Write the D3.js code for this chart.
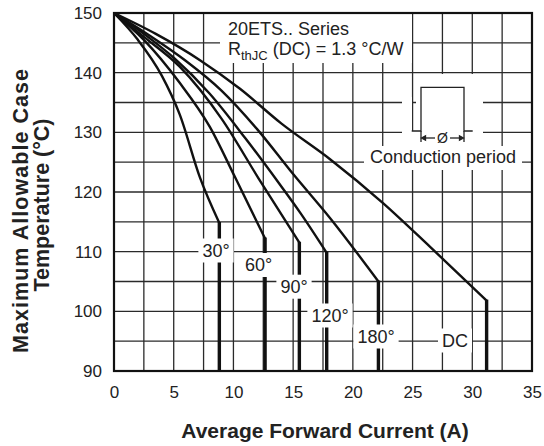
<!DOCTYPE html>
<html><head><meta charset="utf-8">
<script src="https://cdn.jsdelivr.net/npm/d3@7"></script>
<style>
html,body{margin:0;padding:0;background:#fff;}
svg{display:block;font-family:"Liberation Sans",Arial,Helvetica,sans-serif;}
</style></head>
<body>
<svg id="c" width="544" height="446"></svg>
<script>
// ---- data ----
const xTicks = [0, 5, 10, 15, 20, 25, 30, 35];
const yTicks = [90, 100, 110, 120, 130, 140, 150];
const s30  = [[0,150],[2,145.5],[4,139.5],[5.5,133],[7.2,122.4],[8.82,114.8],[8.82,90]];
const s60  = [[0,150],[2.5,145.5],[5.5,138.3],[8,131],[10.13,122.5],[12.65,112.2],[12.65,90]];
const s90  = [[0,150],[2.5,146],[5.5,141],[9,132.3],[12.1,122.3],[15.52,111.5],[15.52,90]];
const s120 = [[0,150],[2.5,146.5],[5,142.5],[8,136.5],[11,129],[13.8,121.5],[15.6,116.5],[17.81,109.8],[17.81,90]];
const s180 = [[0,150],[3,146.2],[6,142],[9,137],[12,130.5],[15,123],[18.1,115.6],[22.14,105],[22.14,90]];
const sDC  = [[0,150],[3.5,146.5],[7.2,142.1],[10.55,137.3],[14,131.5],[18.09,125.5],[22.55,118.1],[26.47,110.8],[31.2,101.8],[31.2,90]];
const seriesData = [s30, s60, s90, s120, s180, sDC];
const labelTexts = ["30°", "60°", "90°", "120°", "180°", "DC"];

// ---- layout ----
const L = 114, R = 532, T = 13, B = 371;
const svg = d3.select("#c");
const x = d3.scaleLinear().domain([0, 35]).range([L, R]);
const y = d3.scaleLinear().domain([90, 150]).range([B, T]);

// grid
const gGrid = svg.append("g");
gGrid.selectAll("line.v").data(d3.range(2.5, 35, 2.5)).join("line")
  .attr("x1", d => x(d)).attr("x2", d => x(d)).attr("y1", T).attr("y2", B)
  .attr("stroke", "#2a2a2a").attr("stroke-width", 1.3);
gGrid.selectAll("line.h").data(d3.range(95, 150, 5)).join("line")
  .attr("y1", d => y(d)).attr("y2", d => y(d)).attr("x1", L).attr("x2", R)
  .attr("stroke", "#2a2a2a").attr("stroke-width", 1.3);

// masks for annotations
const masks = [
  [220, 14, 192, 49],   // title box
  [402, 97, 10, 40],    // left of pulse
  [416, 74, 67, 57],    // pulse interior
  [402, 131, 81, 15],   // below baseline
  [364, 146, 158, 24]   // conduction text
];
svg.append("g").selectAll("rect").data(masks).join("rect")
  .attr("x", d => d[0]).attr("y", d => d[1]).attr("width", d => d[2]).attr("height", d => d[3])
  .attr("fill", "#fff");

// annotation text
const ann = svg.append("g").attr("fill", "#222").attr("font-size", 18);
ann.append("text").attr("x", 228).attr("y", 35).text("20ETS.. Series");
const t2 = ann.append("text").attr("x", 228).attr("y", 55);
t2.append("tspan").text("R");
t2.append("tspan").attr("font-size", 13).attr("dy", 5).text("thJC");
t2.append("tspan").attr("dy", -5).text(" (DC) = 1.3 °C/W");

// pulse inset
const pulse = svg.append("g").attr("stroke", "#222").attr("fill", "none").attr("stroke-width", 1.3);
pulse.append("path").attr("d", "M411.7,131 H421 V87.3 H464 V131 H472.7");
pulse.append("line").attr("x1", 421).attr("x2", 421).attr("y1", 131).attr("y2", 142);
pulse.append("line").attr("x1", 464).attr("x2", 464).attr("y1", 131).attr("y2", 142);
pulse.append("line").attr("x1", 424).attr("x2", 435).attr("y1", 138).attr("y2", 138);
pulse.append("line").attr("x1", 450).attr("x2", 461).attr("y1", 138).attr("y2", 138);
pulse.append("path").attr("d", "M421.5,138 l4,-2.2 v4.4 Z M463.5,138 l-4,-2.2 v4.4 Z").attr("fill", "#222");
ann.append("text").attr("x", 442.5).attr("y", 143).attr("font-size", 14).attr("text-anchor", "middle").text("Ø");
ann.append("text").attr("x", 443).attr("y", 163).attr("text-anchor", "middle").text("Conduction period");

// curves
const line = d3.line().x(d => x(d[0])).y(d => y(d[1])).curve(d3.curveMonotoneX);
const gC = svg.append("g").attr("fill", "none").attr("stroke", "#111");
seriesData.forEach(s => {
  const curvePart = s.slice(0, s.length - 1);
  gC.append("path").attr("d", line(curvePart)).attr("stroke-width", 2.4).attr("stroke-linejoin", "round");
  const k = s[s.length - 2], e = s[s.length - 1];
  gC.append("line").attr("x1", x(k[0])).attr("x2", x(e[0])).attr("y1", y(k[1]) - 1).attr("y2", y(e[1]))
    .attr("stroke-width", 3.4);
});

// curve labels (center x, baseline y)
const labelPos = [[216, 256.5], [258.5, 271], [294, 292.7], [330, 321.5], [376, 342.5], [455, 346.5]];
const gL = svg.append("g").attr("font-size", 18).attr("fill", "#222");
labelTexts.forEach((t, i) => {
  const g = gL.append("g");
  const r = g.append("rect").attr("fill", "#fff");
  const tx = g.append("text").attr("x", labelPos[i][0]).attr("y", labelPos[i][1]).attr("text-anchor", "middle").text(t);
  const bb = tx.node().getBBox();
  r.attr("x", bb.x - 4).attr("y", bb.y - 2).attr("width", bb.width + 8).attr("height", bb.height + 4);
});

// frame
svg.append("rect").attr("x", L).attr("y", T).attr("width", R - L).attr("height", B - T)
  .attr("fill", "none").attr("stroke", "#111").attr("stroke-width", 2.2);

// axes
const xa = svg.append("g").attr("transform", `translate(0,${B})`)
  .call(d3.axisBottom(x).tickValues(xTicks).tickSize(0).tickPadding(15).tickFormat(d3.format("d")));
xa.select(".domain").remove();
xa.selectAll("text").attr("font-size", 17).attr("fill", "#222").attr("font-family", "Liberation Sans, Arial, sans-serif");
const ya = svg.append("g").attr("transform", `translate(${L},0)`)
  .call(d3.axisLeft(y).tickValues(yTicks).tickSize(0).tickPadding(12).tickFormat(d3.format("d")));
ya.select(".domain").remove();
ya.selectAll("text").attr("font-size", 17).attr("fill", "#222").attr("font-family", "Liberation Sans, Arial, sans-serif");

// axis titles
svg.append("text").attr("x", 325).attr("y", 438).attr("text-anchor", "middle")
  .attr("font-size", 21).attr("font-weight", "bold").attr("fill", "#222")
  .text("Average Forward Current (A)");
const yt = svg.append("g").attr("transform", "rotate(-90)")
  .attr("font-size", 21.5).attr("font-weight", "bold").attr("fill", "#222").attr("text-anchor", "middle");
yt.append("text").attr("x", -211).attr("y", 28)
  .attr("textLength", 284).attr("lengthAdjust", "spacing").text("Maximum Allowable Case");
yt.append("text").attr("x", -205).attr("y", 49).text("Temperature (°C)");
</script>
</body></html>
